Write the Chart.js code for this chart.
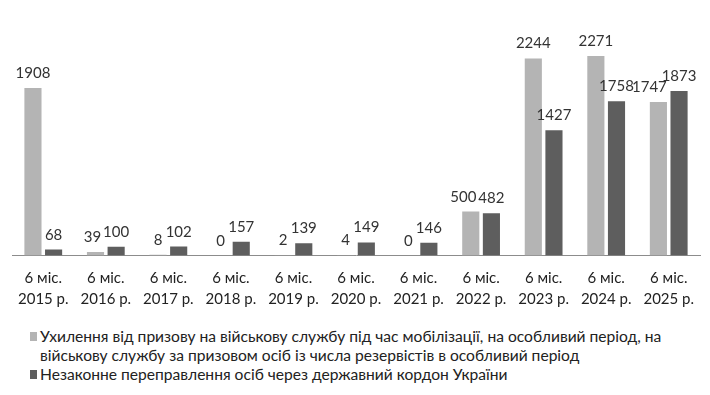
<!DOCTYPE html>
<html>
<head>
<meta charset="utf-8">
<script src="https://cdn.jsdelivr.net/npm/chart.js@4.4.1/dist/chart.umd.min.js"></script>
<style>
  html, body { margin: 0; padding: 0; background: #fff; }
  #wrap { position: relative; width: 710px; height: 326px; }
  #legend { position: absolute; left: 30px; top: 327px; width: 674px; font-family: Lato, sans-serif; font-size: 15.6px; color: #222; line-height: 19px; }
  .lg-item { position: relative; padding-left: 10px; }
  .lg-box { position: absolute; left: 0; top: 5px; width: 7px; height: 9px; }
</style>
</head>
<body>
<div id="wrap"><canvas id="c" width="710" height="326"></canvas></div>
<div id="legend"></div>
<script>
// categories / series
const periods = [
  ['6 міс.', '2015 р.'], ['6 міс.', '2016 р.'], ['6 міс.', '2017 р.'], ['6 міс.', '2018 р.'],
  ['6 міс.', '2019 р.'], ['6 міс.', '2020 р.'], ['6 міс.', '2021 р.'], ['6 міс.', '2022 р.'],
  ['6 міс.', '2023 р.'], ['6 міс.', '2024 р.'], ['6 міс.', '2025 р.']
];
const evasionLabel = 'Ухилення від призову на військову службу під час мобілізації, на особливий період, на військову службу за призовом осіб із числа резервістів в особливий період';
const evasion = [1908, 39, 8, 0, 2, 4, 0, 500, 2244, 2271, 1747];
const borderLabel = 'Незаконне переправлення осіб через державний кордон України';
const border = [68, 100, 102, 157, 139, 149, 146, 482, 1427, 1758, 1873];

const LIGHT = '#b4b4b4';
const DARK = '#5e5e5e';

// value labels above each bar; nudge the left one when a pair collides
const barLabels = {
  id: 'barLabels',
  afterDatasetsDraw(chart) {
    const ctx = chart.ctx;
    ctx.save();
    ctx.font = '15px Lato, sans-serif';
    ctx.fillStyle = '#333';
    ctx.textAlign = 'center';
    ctx.textBaseline = 'alphabetic';
    const m0 = chart.getDatasetMeta(0).data, m1 = chart.getDatasetMeta(1).data;
    const d0 = chart.data.datasets[0].data, d1 = chart.data.datasets[1].data;
    m0.forEach((a, j) => {
      const b = m1[j];
      const t0 = String(d0[j]), t1 = String(d1[j]);
      const w0 = ctx.measureText(t0).width, w1 = ctx.measureText(t1).width;
      let shift = 0;
      const over = (w0 + w1) / 2 - (b.x - a.x);
      if (over > 0 && Math.abs(a.y - b.y) < 12) shift = Math.min(over + 2, 9);
      ctx.fillText(t0, a.x - shift, a.y - 10);
      ctx.fillText(t1, b.x, b.y - 10);
    });
    ctx.restore();
  }
};

new Chart(document.getElementById('c'), {
  type: 'bar',
  data: {
    labels: periods,
    datasets: [
      { label: evasionLabel, data: evasion, backgroundColor: LIGHT },
      { label: borderLabel, data: border, backgroundColor: DARK }
    ]
  },
  options: {
    responsive: false,
    animation: false,
    categoryPercentage: 0.66,
    barPercentage: 0.83,
    layout: { padding: { top: 36, left: 12, right: 10, bottom: 4 } },
    plugins: { legend: { display: false }, tooltip: { enabled: false } },
    scales: {
      x: {
        grid: { display: false, drawTicks: false },
        border: { color: '#8c8c8c', width: 1 },
        ticks: { color: '#222', font: { family: 'Lato', size: 15, lineHeight: 1.35 }, padding: 13, maxRotation: 0, autoSkip: false }
      },
      y: { display: false, min: 0, max: 2500 }
    }
  },
  plugins: [barLabels]
});

// html legend built from the datasets
const legend = document.getElementById('legend');
[[evasionLabel, LIGHT], [borderLabel, DARK]].forEach(([t, col]) => {
  const d = document.createElement('div');
  d.className = 'lg-item';
  d.innerHTML = `<span class="lg-box" style="background:${col}"></span>${t}`;
  legend.appendChild(d);
});
</script>
</body>
</html>
